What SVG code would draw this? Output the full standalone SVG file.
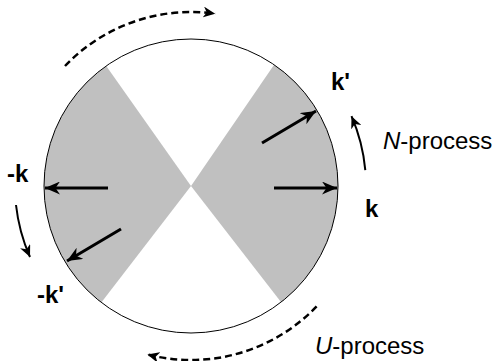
<svg xmlns="http://www.w3.org/2000/svg" width="496" height="361" viewBox="0 0 496 361">
<style>
.lbl{font-family:"Liberation Sans",Arial,sans-serif;font-size:24px;fill:#000}
.b{font-weight:bold}
.ar{fill:none;stroke:#000;stroke-width:3}
.cv{fill:none;stroke:#000;stroke-width:2}
.ds{fill:none;stroke:#000;stroke-width:2.5;stroke-dasharray:7,4}
</style>
<defs>
<marker id="ah" markerUnits="userSpaceOnUse" markerWidth="17" markerHeight="13" refX="15" refY="6.5" orient="auto" viewBox="0 0 17 13">
<path d="M0,0 L15,6.5 L0,13 L4.5,6.5 Z" fill="#000"/>
</marker>
<marker id="ahs" markerUnits="userSpaceOnUse" markerWidth="13" markerHeight="11" refX="12" refY="5.5" orient="auto" viewBox="0 0 13 11">
<path d="M0,0 L12,5.5 L0,11 L3.5,5.5 Z" fill="#000"/>
</marker>
<clipPath id="cc"><circle cx="191" cy="186" r="147"/></clipPath>
</defs>
<g id="sphere">
<g clip-path="url(#cc)" fill="#c0c0c0">
<polygon points="191,186 90,43 0,43 0,325 84,325"/>
<polygon points="191,186 289,43 496,43 496,324 298,324"/>
</g>
<circle cx="191" cy="186" r="147" fill="none" stroke="#000" stroke-width="1"/>
</g>
<g id="connectors">
<line class="ar" x1="274" y1="188" x2="337" y2="188" marker-end="url(#ah)"/>
<line class="ar" x1="262" y1="143" x2="316" y2="111" marker-end="url(#ah)"/>
<line class="ar" x1="108" y1="188" x2="45" y2="188" marker-end="url(#ah)"/>
<line class="ar" x1="121" y1="229" x2="67" y2="261" marker-end="url(#ah)"/>
<path class="cv" d="M365.3,170.1 A175,175 0 0,0 351.5,116.2" marker-end="url(#ahs)"/>
<path class="cv" d="M16,205 A176,176 0 0,0 30,257" marker-end="url(#ahs)"/>
<path class="ds" d="M65,66 A174,174 0 0,1 215.2,13.7" marker-end="url(#ahs)"/>
<path class="ds" d="M316.6,306.4 A174,174 0 0,1 147.4,354.5" marker-end="url(#ahs)"/>
</g>
<g id="labels">
<text class="lbl b" x="331" y="90">k'</text>
<text class="lbl b" x="365" y="217">k</text>
<text class="lbl b" x="7" y="182">-k</text>
<text class="lbl b" x="37" y="303">-k'</text>
<text class="lbl" x="383" y="149"><tspan font-style="italic">N</tspan>-process</text>
<text class="lbl" x="315" y="354"><tspan font-style="italic">U</tspan>-process</text>
</g>
</svg>
